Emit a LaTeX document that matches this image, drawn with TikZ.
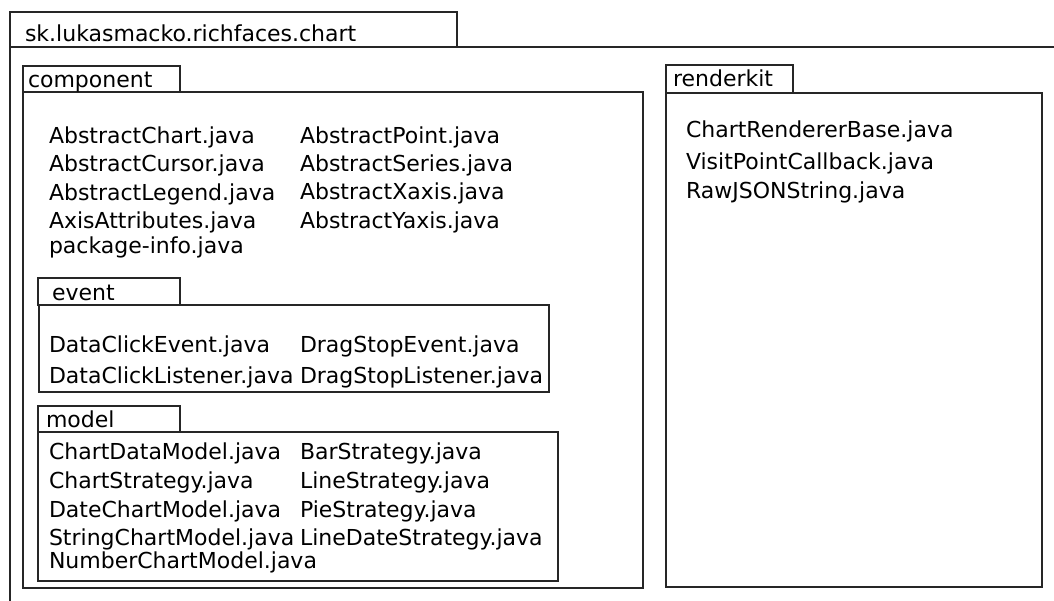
\documentclass[tikz,border=0pt]{standalone}
\usepackage{fontspec}
\setmainfont{DejaVu Sans}
\begin{document}
\begin{tikzpicture}[x=1pt,y=-1pt,
  pkg/.style={draw=black!85,line width=1.4pt},
  lbl/.style={anchor=base west,inner sep=0pt,outer sep=0pt,font=\fontsize{22pt}{26pt}\selectfont}]
\useasboundingbox (0,0) rectangle (1054,600);
\clip (0,0) rectangle (1054,600);
% outer package
\draw[pkg] (10,47) rectangle (457,12);
\draw[pkg] (1060,47) -- (10,47) -- (10,610);
\node[lbl] (tOuter) at (25,41) {sk.lukasmacko.richfaces.chart};
% component
\draw[pkg] (23,92) rectangle (180,66);
\draw[pkg] (23,92) rectangle (643,588);
\node[lbl] (tComp) at (28,87) {component};
\node[lbl] (c1) at (49,143) {AbstractChart.java};
\node[lbl] (c2) at (49,171) {AbstractCursor.java};
\node[lbl] (c3) at (49,200) {AbstractLegend.java};
\node[lbl] (c4) at (49,228) {AxisAttributes.java};
\node[lbl] (c5) at (49,253) {package-info.java};
\node[lbl] (c6) at (300,143) {AbstractPoint.java};
\node[lbl] (c7) at (300,171) {AbstractSeries.java};
\node[lbl] (c8) at (300,199) {AbstractXaxis.java};
\node[lbl] (c9) at (300,228) {AbstractYaxis.java};
% event
\draw[pkg] (38,305) rectangle (180,278);
\draw[pkg] (39,305) rectangle (549,392);
\node[lbl] (tEvent) at (52,300) {event};
\node[lbl] (e1) at (49,352) {DataClickEvent.java};
\node[lbl] (e2) at (49,383) {DataClickListener.java};
\node[lbl] (e3) at (300,352) {DragStopEvent.java};
\node[lbl] (e4) at (300,383) {DragStopListener.java};
% model
\draw[pkg] (38,432) rectangle (180,406);
\draw[pkg] (38,432) rectangle (558,581);
\node[lbl] (tModel) at (46,427) {model};
\node[lbl] (m1) at (49,459) {ChartDataModel.java};
\node[lbl] (m2) at (49,488) {ChartStrategy.java};
\node[lbl] (m3) at (49,517) {DateChartModel.java};
\node[lbl] (m4) at (49,545) {StringChartModel.java};
\node[lbl] (m5) at (49,568) {NumberChartModel.java};
\node[lbl] (m6) at (300,459) {BarStrategy.java};
\node[lbl] (m7) at (300,488) {LineStrategy.java};
\node[lbl] (m8) at (300,517) {PieStrategy.java};
\node[lbl] (m9) at (300,545) {LineDateStrategy.java};
% renderkit
\draw[pkg] (666,93) rectangle (793,65);
\draw[pkg] (666,93) rectangle (1042,587);
\node[lbl] (tRender) at (673,86) {renderkit};
\node[lbl] (r1) at (686,137) {ChartRendererBase.java};
\node[lbl] (r2) at (686,169) {VisitPointCallback.java};
\node[lbl] (r3) at (686,198) {RawJSONString.java};
\end{tikzpicture}
\end{document}
